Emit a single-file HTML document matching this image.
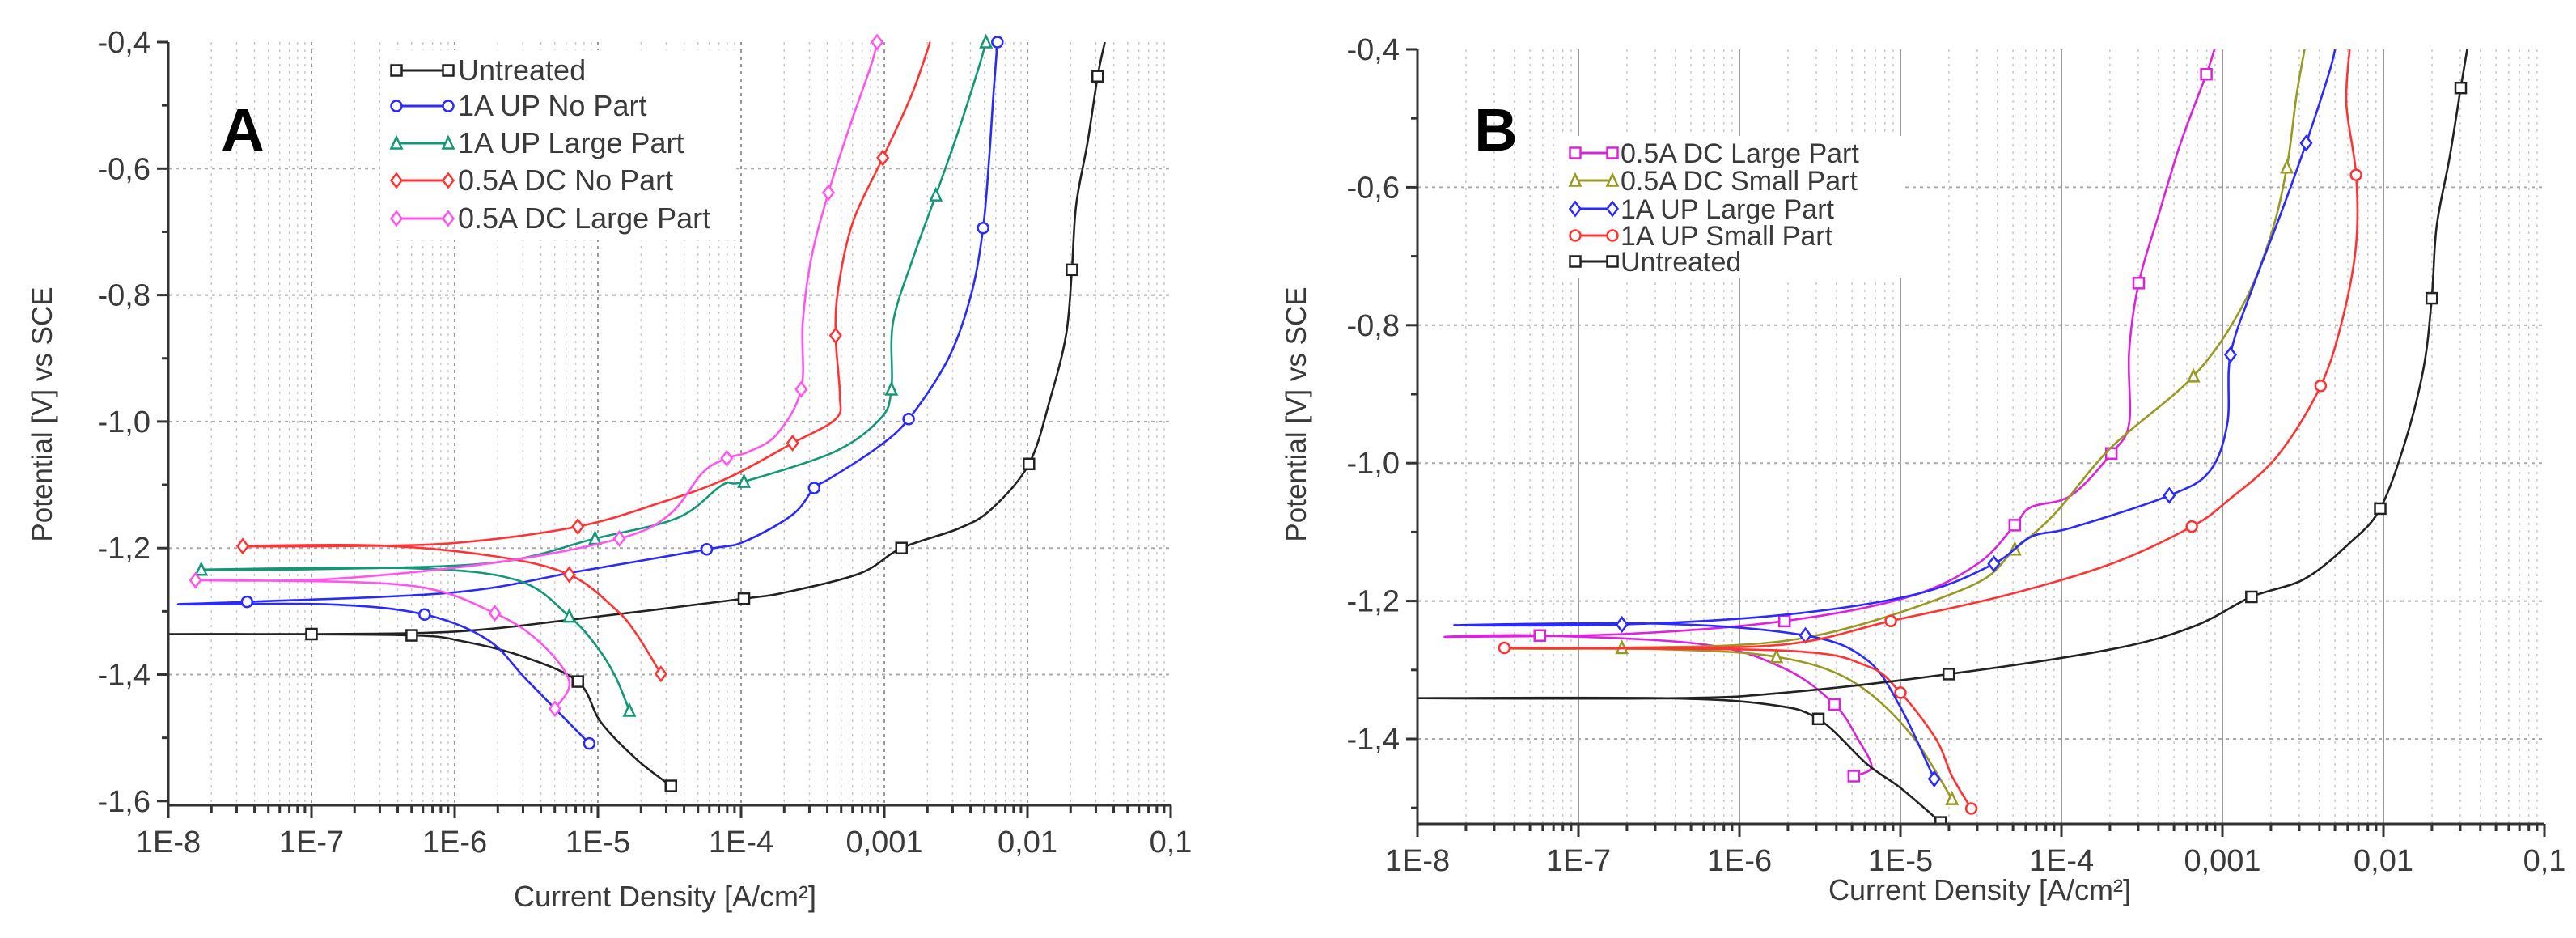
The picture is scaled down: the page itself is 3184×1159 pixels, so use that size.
<!DOCTYPE html>
<html><head><meta charset="utf-8"><style>
html,body{margin:0;padding:0;background:#fff}
svg{display:block}
text{font-family:"Liberation Sans",Arial,sans-serif;fill:#3a3a3a}
</style></head><body>
<svg id="fig" width="3184" height="1159" viewBox="0 0 3184 1159" xmlns="http://www.w3.org/2000/svg">
<defs>
<clipPath id="clipA"><rect x="208" y="40" width="1240" height="956"/></clipPath>
<clipPath id="clipB"><rect x="1752" y="50" width="1396" height="969"/></clipPath>
</defs>
<g id="panelA"></g>
<g id="panelB"></g>
</svg>
<script>
// ---------- DATA (log10 current density [A/cm2], potential [V vs SCE]) ----------
const xTickLabels = ["1E-8","1E-7","1E-6","1E-5","1E-4","0,001","0,01","0,1"];
const yTickLabelsA = ["-0,4","-0,6","-0,8","-1,0","-1,2","-1,4","-1,6"];
const yTickValuesA = [-0.4,-0.6,-0.8,-1.0,-1.2,-1.4,-1.6];
const yTickLabelsB = ["-0,4","-0,6","-0,8","-1,0","-1,2","-1,4"];
const yTickValuesB = [-0.4,-0.6,-0.8,-1.0,-1.2,-1.4];

const namesA = ["Untreated","1A UP No Part","1A UP Large Part","0.5A DC No Part","0.5A DC Large Part"];
const A_untreated_logI = [-4.49,-4.73,-4.98,-5.14,-5.53,-5.95,-6.3,-7.4,-8.0,-7.0,-6.0,-5.14,-3.98,-3.69,-3.17,-2.88,-2.48,-2.25,-1.99,-1.84,-1.73,-1.69,-1.66,-1.58,-1.51,-1.46];
const A_untreated_E    = [-1.576,-1.534,-1.475,-1.411,-1.371,-1.347,-1.338,-1.336,-1.336,-1.336,-1.332,-1.312,-1.28,-1.27,-1.24,-1.2,-1.169,-1.138,-1.067,-0.963,-0.862,-0.76,-0.657,-0.558,-0.454,-0.4];
const A_noPart_logI = [-5.06,-5.49,-5.77,-6.21,-6.87,-7.91,-7.45,-6.0,-5.14,-4.24,-3.98,-3.64,-3.49,-3.38,-3.06,-2.83,-2.55,-2.39,-2.31,-2.27,-2.24,-2.21];
const A_noPart_E    = [-1.509,-1.41,-1.345,-1.305,-1.289,-1.289,-1.285,-1.27,-1.237,-1.202,-1.19,-1.147,-1.105,-1.09,-1.043,-0.996,-0.899,-0.796,-0.694,-0.591,-0.49,-0.4];
const A_upLarge_logI = [-4.78,-4.88,-5.01,-5.2,-5.56,-6.3,-7.77,-6.87,-5.72,-5.02,-4.44,-4.13,-3.98,-3.35,-3.03,-2.95,-2.94,-2.8,-2.64,-2.48,-2.34,-2.29];
const A_upLarge_E    = [-1.457,-1.402,-1.355,-1.308,-1.251,-1.232,-1.234,-1.233,-1.223,-1.185,-1.152,-1.1,-1.095,-1.048,-0.996,-0.949,-0.845,-0.742,-0.642,-0.539,-0.44,-0.4];
const A_dcNo_logI = [-4.56,-4.73,-4.88,-5.2,-5.72,-6.53,-7.48,-6.87,-6.0,-5.14,-4.56,-4.1,-3.64,-3.34,-3.31,-3.34,-3.32,-3.22,-3.01,-2.81,-2.68];
const A_dcNo_E    = [-1.399,-1.336,-1.296,-1.242,-1.213,-1.196,-1.197,-1.197,-1.192,-1.166,-1.128,-1.09,-1.034,-0.996,-0.958,-0.864,-0.787,-0.685,-0.583,-0.484,-0.4];
const A_dcLarge_logI = [-5.3,-5.2,-5.4,-5.72,-6.29,-7.45,-7.81,-6.87,-5.72,-4.85,-4.5,-4.27,-4.1,-3.95,-3.75,-3.58,-3.57,-3.51,-3.39,-3.25,-3.09,-3.05];
const A_dcLarge_E    = [-1.454,-1.411,-1.35,-1.303,-1.26,-1.251,-1.251,-1.249,-1.223,-1.185,-1.147,-1.081,-1.058,-1.048,-1.02,-0.949,-0.845,-0.742,-0.638,-0.539,-0.435,-0.4];

const namesB = ["0.5A DC Large Part","0.5A DC Small Part","1A UP Large Part","1A UP Small Part","Untreated"];
const B_dcLarge_logI = [-5.29,-5.18,-5.26,-5.41,-5.72,-6.22,-7.24,-7.82,-6.73,-5.72,-4.95,-4.52,-4.29,-4.19,-3.94,-3.69,-3.58,-3.58,-3.52,-3.39,-3.26,-3.1,-3.05];
const B_dcLarge_E    = [-1.454,-1.441,-1.402,-1.35,-1.298,-1.263,-1.25,-1.252,-1.248,-1.229,-1.194,-1.146,-1.09,-1.064,-1.047,-0.986,-0.943,-0.839,-0.739,-0.635,-0.536,-0.436,-0.4];
const B_dcSmall_logI = [-4.68,-4.95,-5.31,-5.77,-6.48,-7.44,-6.73,-5.61,-4.59,-4.29,-4.04,-3.69,-3.18,-2.88,-2.7,-2.6,-2.54,-2.49];
const B_dcSmall_E    = [-1.487,-1.389,-1.315,-1.281,-1.27,-1.269,-1.268,-1.254,-1.181,-1.125,-1.073,-0.977,-0.874,-0.774,-0.67,-0.571,-0.467,-0.4];
const B_upLarge_logI = [-4.79,-5.0,-5.21,-5.59,-6.48,-7.77,-6.73,-5.72,-4.9,-4.42,-4.19,-3.94,-3.33,-3.08,-2.97,-2.95,-2.81,-2.64,-2.48,-2.34,-2.3];
const B_upLarge_E    = [-1.458,-1.354,-1.285,-1.25,-1.233,-1.235,-1.234,-1.22,-1.19,-1.146,-1.107,-1.094,-1.047,-1.012,-0.943,-0.843,-0.744,-0.64,-0.536,-0.436,-0.4];
const B_upSmall_logI = [-4.56,-4.68,-4.78,-5.0,-5.21,-5.72,-7.46,-6.73,-5.72,-5.06,-4.35,-3.69,-3.19,-2.97,-2.66,-2.39,-2.25,-2.17,-2.17,-2.23,-2.21];
const B_upSmall_E    = [-1.501,-1.454,-1.4,-1.333,-1.294,-1.272,-1.268,-1.268,-1.263,-1.229,-1.192,-1.146,-1.092,-1.055,-0.99,-0.888,-0.787,-0.683,-0.582,-0.48,-0.4];
const B_untreated_logI = [-4.75,-5.0,-5.21,-5.51,-5.82,-6.48,-8.0,-6.4,-5.72,-4.7,-3.69,-3.18,-2.82,-2.49,-2.21,-2.02,-1.86,-1.75,-1.7,-1.67,-1.59,-1.52,-1.48];
const B_untreated_E    = [-1.521,-1.471,-1.436,-1.371,-1.35,-1.341,-1.341,-1.341,-1.333,-1.306,-1.27,-1.237,-1.194,-1.168,-1.116,-1.066,-0.965,-0.861,-0.761,-0.657,-0.558,-0.456,-0.4];

// ---------- helpers ----------
const NS = "http://www.w3.org/2000/svg";
function mk(tag, attrs, parent){ const e=document.createElementNS(NS,tag); for(const k in attrs) e.setAttribute(k,attrs[k]); if(parent) parent.appendChild(e); return e; }
function smooth(pts){
  if(pts.length<2) return "";
  let d="M"+pts[0][0].toFixed(1)+","+pts[0][1].toFixed(1);
  for(let i=0;i<pts.length-1;i++){
    const p0=pts[Math.max(0,i-1)],p1=pts[i],p2=pts[i+1],p3=pts[Math.min(pts.length-1,i+2)];
    const c1x=p1[0]+(p2[0]-p0[0])/6,c1y=p1[1]+(p2[1]-p0[1])/6;
    const c2x=p2[0]-(p3[0]-p1[0])/6,c2y=p2[1]-(p3[1]-p1[1])/6;
    d+=" C"+c1x.toFixed(1)+","+c1y.toFixed(1)+" "+c2x.toFixed(1)+","+c2y.toFixed(1)+" "+p2[0].toFixed(1)+","+p2[1].toFixed(1);
  }
  return d;
}
function marker(g,shape,x,y,color){
  const s=6.5; let m;
  if(shape==="square") m=mk("rect",{x:x-s,y:y-s,width:2*s,height:2*s},g);
  else if(shape==="circle") m=mk("circle",{cx:x,cy:y,r:s},g);
  else if(shape==="triangle") m=mk("polygon",{points:`${x},${y-s-1} ${x-s},${y+s} ${x+s},${y+s}`},g);
  else m=mk("polygon",{points:`${x},${y-s-2} ${x-s},${y} ${x},${y+s+2} ${x+s},${y}`},g);
  m.setAttribute("fill","#fff"); m.setAttribute("stroke",color); m.setAttribute("stroke-width","2.5");
  
  
}

function panel(cfg){
  const g=document.getElementById(cfg.id);
  const X=cfg.x, Y=cfg.y;
  // grid
  const grid=mk("g",{},g);
  
  
  for(let d=-8; d<-1; d++){
    for(let m=2;m<=9;m++){
      const xx=X(d+Math.log10(m));
      mk("line",{x1:xx,x2:xx,y1:cfg.top,y2:cfg.bottom,stroke:"#c8c8c8","stroke-width":1.5,"stroke-dasharray":"3,6"},grid);
    }
  }
  for(let d=-7; d<=-2; d++){
    const xx=X(d);
    if(cfg.solidDecade) mk("line",{x1:xx,x2:xx,y1:cfg.top,y2:cfg.bottom,stroke:"#9a9a9a","stroke-width":2},grid);
    else mk("line",{x1:xx,x2:xx,y1:cfg.top,y2:cfg.bottom,stroke:"#999","stroke-width":2,"stroke-dasharray":"4,5"},grid);
  }
  cfg.yVals.forEach((v,i)=>{ if(i===0||v<=cfg.yMinGrid) return; const yy=Y(v);
    mk("line",{x1:cfg.left,x2:cfg.right,y1:yy,y2:yy,stroke:"#aaa","stroke-width":2,"stroke-dasharray":"4,5"},grid);});
  // legend background
  mk("rect",cfg.legBg,g);
  // series
  const sg=mk("g",{"clip-path":"url(#"+cfg.clip+")"},g);
  cfg.series.forEach((s)=>{
    const pts=s.l.map((l,i)=>[X(l),Y(s.e[i])]);
    const p=mk("path",{d:smooth(pts),fill:"none",stroke:s.c,"stroke-width":2.6},sg);
    
    
    pts.forEach((pt,i)=>{ if(i%3===0 && pt[1]<cfg.bottom+2 && Math.abs(s.l[i]+8)>0.05) marker(sg,s.m,pt[0],pt[1],s.c); });
  });
  // axes
  const ax=mk("g",{},g);
  
  
  mk("line",{x1:cfg.left,x2:cfg.left,y1:cfg.top,y2:cfg.axisY,stroke:"#333","stroke-width":3},ax);
  mk("line",{x1:cfg.left,x2:X(-1),y1:cfg.axisY,y2:cfg.axisY,stroke:"#333","stroke-width":3},ax);
  for(let d=-8; d<=-1; d++){
    const xx=X(d);
    mk("line",{x1:xx,x2:xx,y1:cfg.axisY,y2:cfg.axisY+16,stroke:"#333","stroke-width":3},ax);
    if(d<-1) for(let m=2;m<=9;m++){ const x2=X(d+Math.log10(m));
      mk("line",{x1:x2,x2:x2,y1:cfg.axisY,y2:cfg.axisY+9,stroke:"#333","stroke-width":3},ax);}
    const t=mk("text",{x:xx,y:cfg.axisY+58,"font-size":38,"text-anchor":"middle"},ax);
    t.textContent=xTickLabels[d+8];
    
    
  }
  cfg.yVals.forEach((v,i)=>{
    const yy=Y(v);
    mk("line",{x1:cfg.left-14,x2:cfg.left,y1:yy,y2:yy,stroke:"#333","stroke-width":3},ax);
    const ym=Y(v-0.1);
    if(ym<=cfg.axisY+1) mk("line",{x1:cfg.left-8,x2:cfg.left,y1:ym,y2:ym,stroke:"#333","stroke-width":3},ax);
    const t=mk("text",{x:cfg.left-22,y:yy+13,"font-size":38,"text-anchor":"end"},ax);
    t.textContent=cfg.yLabels[i];
    
    
  });
  const xt=mk("text",{x:cfg.xLabelX,y:cfg.xLabelY,"font-size":36,"text-anchor":"middle"},g);
  xt.textContent="Current Density [A/cm²]";
  
  
  const yt=mk("text",{x:0,y:0,"font-size":35,"text-anchor":"middle",transform:`translate(${cfg.yLabelX},${cfg.yLabelY}) rotate(-90)`},g);
  yt.textContent="Potential [V] vs SCE";
  
  
  const pl=mk("text",{x:cfg.letterX,y:cfg.letterY,"font-size":74,"font-weight":"bold","text-anchor":"middle",style:"fill:#000"},g);
  pl.textContent=cfg.letter;
  
  
  // legend
  cfg.series.forEach((s)=>{
    const ly=cfg.legRows[s.row];
    const lg=mk("g",{},g);
    
    
    mk("line",{x1:cfg.legX1,x2:cfg.legX2,y1:ly,y2:ly,stroke:s.c,"stroke-width":3},lg);
    marker(lg,s.m,cfg.legX1,ly,s.c); marker(lg,s.m,cfg.legX2,ly,s.c);
    const t=mk("text",{x:cfg.legTX,y:ly+12,"font-size":cfg.legFont},lg);
    t.textContent=s.name;
  });
}

const xA=l=>208+(l+8)*177;
const yA=E=>52+(-0.4-E)/0.2*156.3;
panel({id:"panelA",clip:"clipA",x:xA,y:yA,left:208,right:1447,top:52,bottom:995,axisY:995,yMinGrid:-1.5,
  yVals:yTickValuesA,yLabels:yTickLabelsA,solidDecade:false,
  legBg:{x:470,y:62,width:440,height:235,fill:"#fff"},
  xLabelX:822,xLabelY:1120,yLabelX:64,yLabelY:512,letter:"A",letterX:300,letterY:186,
  legRows:[87,131,177,223,270],legX1:490,legX2:554,legTX:566,legFont:36,
  series:[
    {key:"a-untreated",name:namesA[0],l:A_untreated_logI,e:A_untreated_E,c:"#222",m:"square",row:0},
    {key:"a-1a-up-no-part",name:namesA[1],l:A_noPart_logI,e:A_noPart_E,c:"#2a2aff",m:"circle",row:1},
    {key:"a-1a-up-large-part",name:namesA[2],l:A_upLarge_logI,e:A_upLarge_E,c:"#119977",m:"triangle",row:2},
    {key:"a-05a-dc-no-part",name:namesA[3],l:A_dcNo_logI,e:A_dcNo_E,c:"#ff3333",m:"diamond",row:3},
    {key:"a-05a-dc-large-part",name:namesA[4],l:A_dcLarge_logI,e:A_dcLarge_E,c:"#ff55ee",m:"diamond",row:4}
  ]});

const xB=l=>1752+(l+8)*199;
const yB=E=>61+(-0.4-E)/0.2*170.4;
panel({id:"panelB",clip:"clipB",x:xB,y:yB,left:1752,right:3146,top:61,bottom:1018,axisY:1018,yMinGrid:-1.45,
  yVals:yTickValuesB,yLabels:yTickLabelsB,solidDecade:true,
  legBg:{x:1930,y:168,width:425,height:175,fill:"#fff"},
  xLabelX:2447,xLabelY:1112,yLabelX:1614,yLabelY:512,letter:"B",letterX:1849,letterY:186,
  legRows:[189,223,258,291,323],legX1:1947,legX2:1993,legTX:2003,legFont:34,
  series:[
    {key:"b-05a-dc-large-part",name:namesB[0],l:B_dcLarge_logI,e:B_dcLarge_E,c:"#dd22dd",m:"square",row:0},
    {key:"b-05a-dc-small-part",name:namesB[1],l:B_dcSmall_logI,e:B_dcSmall_E,c:"#999922",m:"triangle",row:1},
    {key:"b-1a-up-large-part",name:namesB[2],l:B_upLarge_logI,e:B_upLarge_E,c:"#2a2aff",m:"diamond",row:2},
    {key:"b-1a-up-small-part",name:namesB[3],l:B_upSmall_logI,e:B_upSmall_E,c:"#ff3333",m:"circle",row:3},
    {key:"b-untreated",name:namesB[4],l:B_untreated_logI,e:B_untreated_E,c:"#222",m:"square",row:4}
  ]});
</script>
</body></html>
